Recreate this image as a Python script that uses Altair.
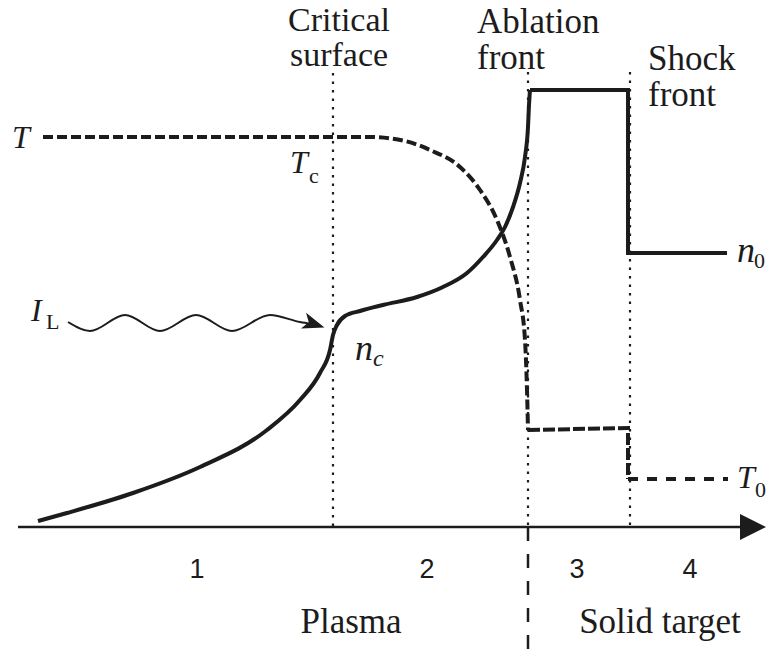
import altair as alt
import pandas as pd

# ---------------- data (page-pixel coordinates) ----------------
# density profile n(x)
n_plasma_x = [38, 67, 133, 200, 267, 300, 320, 330, 333, 337, 345, 360, 383, 417, 443, 467, 483, 497, 505, 513, 520, 525, 528, 529, 530]
n_plasma_y = [521, 513, 493, 467, 430, 400, 373, 350, 335, 325, 316, 311, 305, 297, 287, 273, 257, 240, 227, 207, 183, 157, 127, 105, 90]
n_solid_x = [530, 628, 628, 727]
n_solid_y = [90, 90, 253, 253]

# temperature profile T(x)
T_plasma_x = [43, 200, 370, 405, 430, 460, 480, 497, 510, 520, 525, 527, 528]
T_plasma_y = [137, 137, 137, 141, 150, 167, 190, 220, 257, 300, 340, 390, 430]
T_solid_x = [528, 628, 628]
T_solid_y = [430, 428, 479]
T_rear_x = [628, 728]
T_rear_y = [479, 479]

# incoming laser (wavy arrow)
laser_x = [68, 90, 125, 160, 196, 232, 270, 300, 312]
laser_y = [322, 331, 315, 331, 315, 331, 315, 322, 324]
laser_head = (314, 324)

# fronts
front_x = [333, 528, 630]
front_top = [73, 72, 72]
axis_y = 527
axis_start = 18
axis_end = 742
axis_head = (753, 527)
boundary_x = 528
boundary_bottom = 660

# labels
head_c_text = ["Critical\nsurface"]
head_c_x = [339]
head_c_y = [31]
head_l_text = ["Ablation\nfront", "Shock\nfront"]
head_l_x = [477, 648]
head_l_y = [33, 70]
word_c_text = ["Plasma", "Solid target"]
word_c_x = [351, 660]
word_c_y = [633, 633]
zone_text = ["1", "2", "3", "4"]
zone_x = [197, 427, 577, 690]
zone_y = [578, 578, 578, 578]
sym_text = ["T", "T", "I", "T"]
sym_x = [12, 290, 31, 737]
sym_y = [148, 173, 321, 488]
n_text = ["n", "n"]
n_x = [355, 737]
n_y = [360, 262]
sub_text = ["c", "L", "0", "0"]
sub_x = [309, 46, 754, 755]
sub_y = [183, 329, 268, 497]
subi_text = ["c"]
subi_x = [373]
subi_y = [366]

# ---------------- chart ----------------
INK = "#1c1c1c"
W, H = 758, 641
xs = alt.Scale(domain=[8, 8 + W], nice=False, zero=False)
ys = alt.Scale(domain=[8, 8 + H], reverse=True, nice=False, zero=False)


def X(f="x"):
    return alt.X(f"{f}:Q", scale=xs, axis=None)


def Y(f="y"):
    return alt.Y(f"{f}:Q", scale=ys, axis=None)


def line(xv, yv, **kw):
    df = pd.DataFrame({"x": xv, "y": yv, "i": list(range(len(xv)))})
    return alt.Chart(df).mark_line(color=INK, **kw).encode(x=X(), y=Y(), order="i:Q")


def text(tv, xv, yv, **kw):
    df = pd.DataFrame({"x": xv, "y": yv, "t": tv})
    return alt.Chart(df).mark_text(color=INK, baseline="alphabetic", **kw).encode(x=X(), y=Y(), text="t:N")


axis_df = pd.DataFrame({"x": [axis_start], "x2": [axis_end], "y": [axis_y]})
axis_line = alt.Chart(axis_df).mark_rule(color=INK, strokeWidth=2.5).encode(
    x=X(), x2="x2:Q", y=Y())
axis_arrow = alt.Chart(pd.DataFrame({"x": [axis_head[0]], "y": [axis_head[1]]})).mark_point(
    shape="M1,0 L-1,-1 L-1,1 Z", filled=True, size=26 * 26, color=INK, opacity=1
).encode(x=X(), y=Y())

fronts_df = pd.DataFrame({"x": front_x, "y": front_top, "y2": [axis_y] * 3})
fronts = alt.Chart(fronts_df).mark_rule(color=INK, strokeWidth=2.2, strokeDash=[2.5, 6]).encode(
    x=X(), y=Y(), y2="y2:Q")
boundary = alt.Chart(pd.DataFrame({"x": [boundary_x], "y": [axis_y], "y2": [boundary_bottom]})).mark_rule(
    color=INK, strokeWidth=2.5, strokeDash=[14, 13]).encode(x=X(), y=Y(), y2="y2:Q")

n_plasma = line(n_plasma_x, n_plasma_y, interpolate="monotone", strokeWidth=4)
n_solid = line(n_solid_x, n_solid_y, strokeWidth=4, strokeJoin="miter")
T_plasma = line(T_plasma_x, T_plasma_y, interpolate="monotone", strokeWidth=4, strokeDash=[10, 4])
T_solid = line(T_solid_x, T_solid_y, strokeWidth=4, strokeDash=[12, 3], strokeJoin="miter")
T_rear = line(T_rear_x, T_rear_y, strokeWidth=4, strokeDash=[10, 9])

laser = line(laser_x, laser_y, interpolate="monotone", strokeWidth=2)
laser_arrow = alt.Chart(pd.DataFrame({"x": [laser_head[0]], "y": [laser_head[1]]})).mark_point(
    shape="M1,0 L-1,-0.75 L-0.5,0 L-1,0.75 Z", filled=True, size=22 * 22, angle=18, color=INK, opacity=1
).encode(x=X(), y=Y())

SERIF = "Liberation Serif"
labels = [
    text(head_c_text, head_c_x, head_c_y, font=SERIF, fontSize=34, align="center", lineBreak="\n", lineHeight=35),
    text(head_l_text, head_l_x, head_l_y, font=SERIF, fontSize=35, align="left", lineBreak="\n", lineHeight=36),
    text(word_c_text, word_c_x, word_c_y, font=SERIF, fontSize=35, align="center"),
    text(zone_text, zone_x, zone_y, font="Liberation Sans", fontSize=27, align="center"),
    text(sym_text, sym_x, sym_y, font=SERIF, fontSize=32, fontStyle="italic", align="left"),
    text(n_text, n_x, n_y, font=SERIF, fontSize=36, fontStyle="italic", align="left"),
    text(sub_text, sub_x, sub_y, font=SERIF, fontSize=22, align="left"),
    text(subi_text, subi_x, subi_y, font=SERIF, fontSize=24, fontStyle="italic", align="left"),
]

chart = alt.layer(
    fronts, boundary, axis_line, axis_arrow,
    T_plasma, T_solid, T_rear,
    n_plasma, n_solid,
    laser, laser_arrow,
    *labels,
).properties(width=W, height=H, padding=0, autosize=alt.AutoSizeParams(type="none")).configure_view(stroke=None)

chart.save("out.html", embed_options={"renderer": "svg", "actions": False})
